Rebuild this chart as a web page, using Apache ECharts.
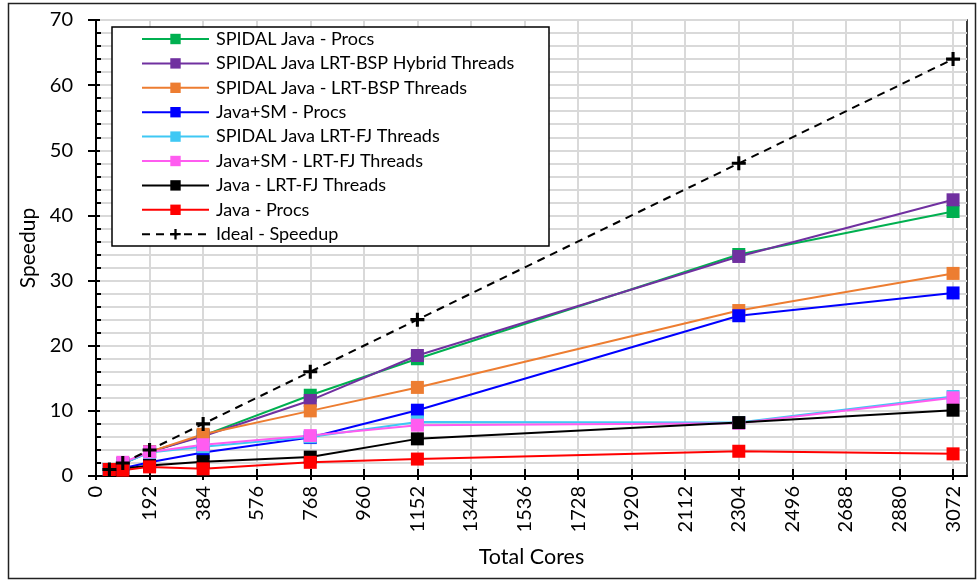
<!DOCTYPE html>
<html>
<head>
<meta charset="utf-8">
<script src="https://cdn.jsdelivr.net/npm/echarts@6/dist/echarts.min.js"></script>
<style>
  html, body { margin: 0; padding: 0; background: #fff; }
  #chart { width: 977px; height: 581px; }
</style>
</head>
<body>
<div id="chart"></div>
<script>
// Core counts used in every run
const cores = [48, 96, 192, 384, 768, 1152, 2304, 3072];

// Measured speedup per configuration
const spidalProcs       = [1, 1.9, 3.7, 6.2, 12.4, 18.0, 34.0, 40.6];
const spidalBspHybrid   = [1, 1.9, 3.7, 6.1, 11.6, 18.5, 33.7, 42.4];
const spidalBspThreads  = [1, 1.9, 3.7, 6.4, 10.0, 13.6, 25.4, 31.1];
const javaSmProcs       = [1, 1.2, 2.1, 3.6, 5.9, 10.1, 24.6, 28.1];
const spidalFjThreads   = [1, 1.9, 3.6, 4.5, 6.0, 8.3, 8.2, 12.2];
const javaSmFjThreads   = [1, 2.1, 3.7, 4.8, 6.2, 7.8, 8.1, 12.0];
const javaFjThreads     = [1, 1.1, 1.6, 2.2, 2.9, 5.7, 8.2, 10.1];
const javaProcs         = [1, 0.9, 1.4, 1.1, 2.1, 2.6, 3.8, 3.4];
const idealSpeedup      = [1, 2, 4, 8, 16, 24, 48, 64];

// Axis tick labels
const xTicks = [0, 192, 384, 576, 768, 960, 1152, 1344, 1536, 1728, 1920, 2112, 2304, 2496, 2688, 2880, 3072];
const yTicks = [0, 10, 20, 30, 40, 50, 60, 70];

const FONT = 'Lato, "Open Sans", sans-serif';
const pairs = vals => cores.map((c, i) => [c, vals[i]]);
const plusPath = 'path://M39,0H61V39H100V61H61V100H39V61H0V39H39Z';

function lineSeries(name, color, vals) {
  return {
    name, type: 'line', data: pairs(vals),
    xAxisIndex: 0, yAxisIndex: 0,
    symbol: 'rect', symbolSize: 13,
    lineStyle: { color, width: 2 },
    itemStyle: { color },
    animation: false
  };
}

const series = [
  lineSeries('SPIDAL Java - Procs', '#00B050', spidalProcs),
  lineSeries('SPIDAL Java LRT-BSP Hybrid Threads', '#7030A0', spidalBspHybrid),
  lineSeries('SPIDAL Java - LRT-BSP Threads', '#ED7D31', spidalBspThreads),
  lineSeries('Java+SM - Procs', '#0000FF', javaSmProcs),
  lineSeries('SPIDAL Java LRT-FJ Threads', '#3FC8F4', spidalFjThreads),
  lineSeries('Java+SM - LRT-FJ Threads', '#FF5CF0', javaSmFjThreads),
  lineSeries('Java - LRT-FJ Threads', '#000000', javaFjThreads),
  lineSeries('Java - Procs', '#FF0000', javaProcs),
  {
    name: 'Ideal - Speedup', type: 'line', data: pairs(idealSpeedup),
    xAxisIndex: 0, yAxisIndex: 0,
    symbol: plusPath, symbolSize: 14,
    lineStyle: { color: '#000', width: 2, type: [8, 6] },
    itemStyle: { color: '#000' },
    animation: false
  }
];

const axisLineStyle = { color: '#000', width: 2 };
const gridLine = { show: true, lineStyle: { color: '#d9d9d9', width: 2 } };

const chart = echarts.init(document.getElementById('chart'), null, { renderer: 'canvas' });
chart.setOption({
  backgroundColor: '#fff',
  animation: false,
  grid: {
    left: 96, top: 20, width: 871, height: 456,
    show: true, borderColor: '#000', borderWidth: 1.5, backgroundColor: 'transparent'
  },
  xAxis: [
    {
      type: 'value', min: 0, max: 3122, interval: 192, position: 'bottom',
      axisLine: { lineStyle: axisLineStyle },
      axisTick: { length: 4, lineStyle: axisLineStyle, customValues: xTicks },
      axisLabel: {
        customValues: xTicks, rotate: 90, margin: 10,
        fontSize: 20, color: '#000', fontFamily: FONT,
        formatter: v => String(v)
      },
      splitLine: gridLine,
      name: 'Total Cores', nameLocation: 'middle', nameGap: 70,
      nameTextStyle: { fontSize: 21.5, color: '#000', fontFamily: FONT }
    },
    {
      type: 'value', min: 0, max: 3122, interval: 192, position: 'bottom',
      axisLine: { show: false },
      axisTick: { inside: true, length: 7, lineStyle: axisLineStyle, customValues: xTicks },
      axisLabel: { show: false },
      splitLine: { show: false }
    }
  ],
  yAxis: [
    {
      type: 'value', min: 0, max: 70, interval: 10,
      axisLine: { show: true, lineStyle: axisLineStyle },
      axisTick: { show: true, length: 8, lineStyle: axisLineStyle },
      axisLabel: {
        margin: 23, fontSize: 20, color: '#000', fontFamily: FONT,
        formatter: v => (yTicks.includes(v) ? String(v) : '')
      },
      splitLine: gridLine,
      minorTick: { show: false, splitNumber: 5 },
      minorSplitLine: { show: true, lineStyle: { color: '#d9d9d9', width: 2 } },
      name: 'Speedup', nameLocation: 'middle', nameGap: 56,
      nameTextStyle: { fontSize: 21, color: '#000', fontFamily: FONT }
    },
    {
      type: 'value', min: 0, max: 70, interval: 10, position: 'left',
      axisLine: { show: false },
      axisTick: { show: true, inside: true, length: 4, lineStyle: axisLineStyle },
      minorTick: { show: true, splitNumber: 5, length: 5, lineStyle: { color: '#000', width: 2 } },
      axisLabel: { show: false },
      splitLine: { show: false }
    }
  ],
  legend: {
    orient: 'vertical', left: 141, top: 29,
    itemWidth: 67, itemHeight: 13, itemGap: 4.4,
    padding: 0,
    textStyle: { fontSize: 18, color: '#000', fontFamily: FONT, lineHeight: 20, padding: [0, 0, 0, 2] },
    data: series.map(s => s.name),
    z: 6
  },
  graphic: [
    {
      type: 'rect', z: 5,
      shape: { x: 112, y: 27, width: 437, height: 219 },
      style: { fill: '#fff', stroke: '#000', lineWidth: 1.5 }
    },
    {
      type: 'rect', z: 0, silent: true,
      shape: { x: 8.5, y: 3.5, width: 967, height: 575 },
      style: { fill: 'none', stroke: '#222', lineWidth: 1.5 }
    }
  ],
  series
});
</script>
</body>
</html>
